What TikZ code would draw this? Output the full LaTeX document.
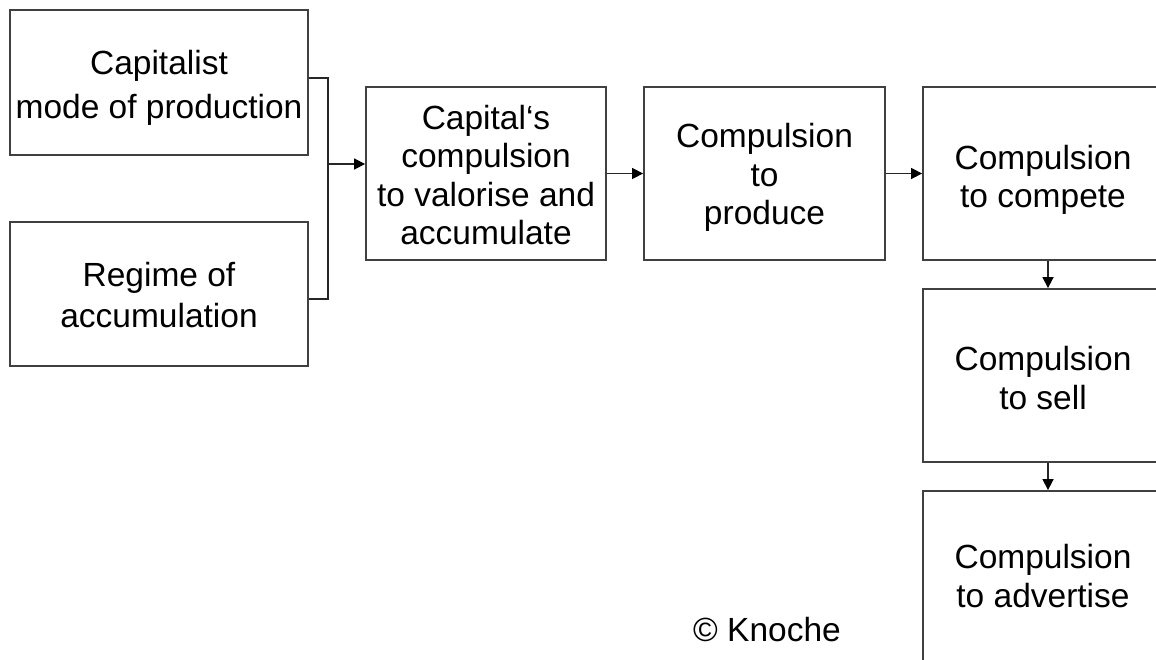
\documentclass[tikz,border=0pt]{standalone}
\usepackage{fontspec}
\setmainfont{Liberation Sans}
\usetikzlibrary{arrows.meta,calc}
\begin{document}
\begin{tikzpicture}[x=1pt,y=-1pt,
  box/.style={draw=black!75,line width=1.8pt,rectangle,inner sep=0pt},
  boxtext/.style={inner sep=0pt,align=center,font=\fontsize{33.5}{#1}\selectfont},
  boxtext/.default=38.5,
  link/.style={draw=black!85,line width=1.5pt},
  arr/.style={link,-{Triangle[length=11pt,width=11pt,fill=black,color=black]}}]
\useasboundingbox (0,0) rectangle (1156,659);
\clip (0,0) rectangle (1156,659);
% left column
\node[box,minimum width=298pt,minimum height=145pt] (b1) at (159,82.5) {};
\node[box,minimum width=298pt,minimum height=144pt] (b2) at (159,294) {};
% main row
\node[box,minimum width=240pt,minimum height=173pt] (b3) at (486,173.5) {};
\node[box,minimum width=241pt,minimum height=173pt] (b4) at (764.5,173.5) {};
\node[box,minimum width=240pt,minimum height=173pt] (b5) at (1043,173.5) {};
% right column, running past the page edge
\node[box,minimum width=240pt,minimum height=173pt] (b6) at (1043,375.5) {};
\node[box,minimum width=240pt,minimum height=173pt] (b7) at (1043,577.5) {};
% box texts
\node[boxtext=44] (t1) at ([yshift=-5.5pt]b1.center) {Capitalist\\mode of production};
\node[boxtext=41] (t2) at ([yshift=-1.5pt]b2.center) {Regime of\\accumulation};
\node[boxtext] (t3) at ([yshift=-1.5pt]b3.center) {Capital‘s\\compulsion\\to valorise and\\accumulate};
\node[boxtext] (t4) at ([yshift=-4pt]b4.center) {Compulsion\\to\\produce};
\node[boxtext] (t5) at ([yshift=-6.5pt]b5.center) {Compulsion\\to compete};
\node[boxtext] (t6) at ([yshift=-2.5pt]b6.center) {Compulsion\\to sell};
\node[boxtext] (t7) at ([yshift=1.5pt]b7.center) {Compulsion\\to advertise};
\node[boxtext] (copy) at (767,630) {© Knoche};
% merge of the two left boxes
\coordinate (j) at (328,164);
\draw[link] ([yshift=4.5pt]b1.east) -| (j);
\draw[link] ([yshift=-5pt]b2.east) -| (j);
\draw[arr] (j) -- (j -| b3.west);
\draw[arr] (b3.east) -- (b4.west);
\draw[arr] (b4.east) -- (b5.west);
\draw[arr] ([xshift=5pt]b5.south) -- ([xshift=5pt]b6.north);
\draw[arr] ([xshift=5pt]b6.south) -- ([xshift=5pt]b7.north);
\end{tikzpicture}
\end{document}
